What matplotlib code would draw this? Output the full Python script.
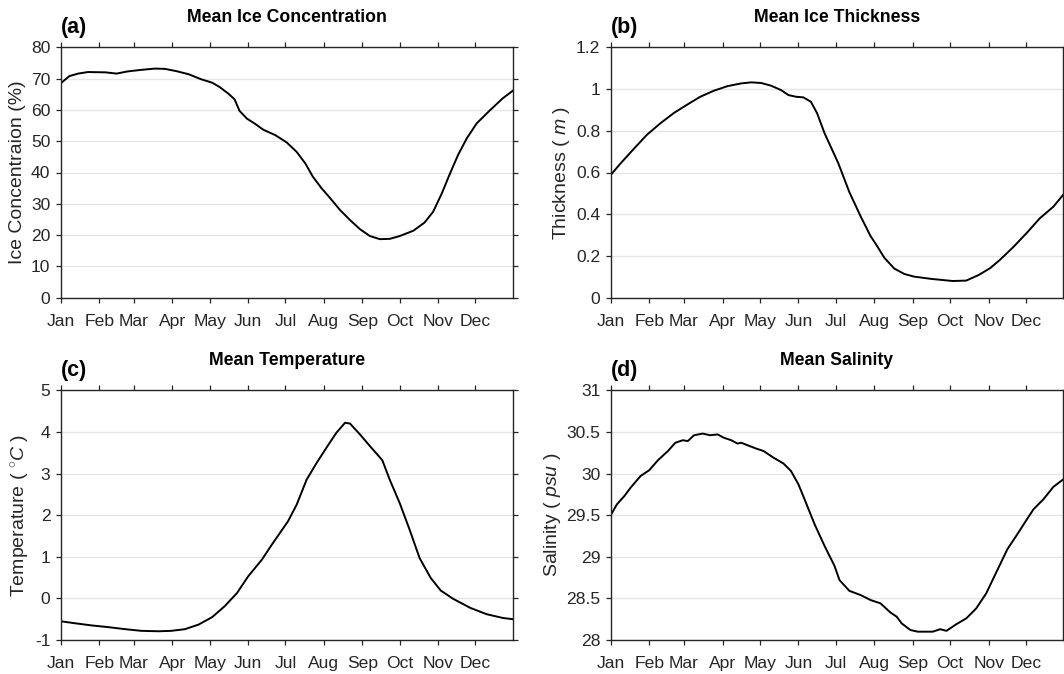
import matplotlib
matplotlib.use("Agg")
import matplotlib.pyplot as plt

# ---- data (day of year, value) ----
month_starts = [1, 32, 60, 91, 121, 152, 182, 213, 244, 274, 305, 335]
month_names = ["Jan", "Feb", "Mar", "Apr", "May", "Jun",
               "Jul", "Aug", "Sep", "Oct", "Nov", "Dec"]

ice_conc_day = [1, 8, 15, 23, 37, 46, 55, 66, 77, 85, 94, 104, 114, 123, 129,
                136, 141, 145, 151, 157, 164, 174, 183, 191, 198, 204, 211, 218,
                226, 234, 242, 250, 258, 266, 274, 285, 294, 301, 308, 314, 321,
                328, 336, 347, 357, 365]
ice_conc = [68.5, 70.8, 71.6, 72.1, 72.0, 71.6, 72.3, 72.8, 73.2, 73.1, 72.4,
            71.4, 69.8, 68.7, 67.3, 65.2, 63.4, 59.7, 57.2, 55.7, 53.7, 51.9,
            49.6, 46.6, 42.9, 38.7, 35.0, 31.8, 28.0, 24.8, 21.9, 19.7, 18.7,
            18.8, 19.7, 21.4, 24.0, 27.5, 33.4, 39.2, 45.6, 50.9, 55.7, 60.0,
            63.7, 66.1]

thick_day = [1, 9, 20, 30, 41, 52, 63, 73, 84, 95, 106, 114, 122, 130, 138,
             144, 150, 156, 162, 167, 173, 184, 193, 202, 210, 215, 221, 229,
             237, 245, 259, 276, 287, 297, 306, 314, 325, 336, 346, 357, 365]
thickness = [0.588, 0.644, 0.716, 0.780, 0.836, 0.886, 0.927, 0.963, 0.992,
             1.014, 1.027, 1.032, 1.029, 1.016, 0.995, 0.971, 0.963, 0.960,
             0.939, 0.884, 0.788, 0.645, 0.505, 0.390, 0.295, 0.250, 0.192,
             0.140, 0.114, 0.101, 0.090, 0.080, 0.082, 0.109, 0.141, 0.181,
             0.244, 0.313, 0.380, 0.436, 0.494]

temp_day = [1, 13, 26, 39, 53, 66, 80, 90, 101, 112, 123, 133, 143, 152, 163,
            171, 184, 191, 199, 207, 215, 223, 230, 234, 242, 250, 260, 266,
            274, 282, 290, 299, 307, 317, 331, 344, 357, 365]
temperature = [-0.55, -0.60, -0.65, -0.69, -0.74, -0.78, -0.79, -0.78, -0.74,
               -0.63, -0.45, -0.19, 0.13, 0.53, 0.93, 1.29, 1.85, 2.25, 2.85,
               3.25, 3.62, 3.98, 4.22, 4.20, 3.94, 3.66, 3.32, 2.85, 2.29, 1.65,
               0.97, 0.49, 0.19, -0.01, -0.23, -0.38, -0.47, -0.50]

sal_day = [1, 6, 12, 17, 25, 32, 39, 47, 53, 59, 63, 68, 75, 81, 87, 92, 98,
           103, 106, 111, 118, 124, 132, 140, 146, 152, 158, 165, 173, 181,
           185, 193, 202, 210, 218, 226, 231, 235, 242, 248, 254, 260, 266,
           271, 279, 287, 295, 303, 311, 320, 328, 334, 341, 349, 357, 365]
salinity = [29.50, 29.63, 29.73, 29.83, 29.97, 30.04, 30.16, 30.27, 30.37,
            30.40, 30.39, 30.46, 30.48, 30.46, 30.47, 30.43, 30.40, 30.36,
            30.37, 30.34, 30.30, 30.27, 30.19, 30.12, 30.03, 29.87, 29.65,
            29.39, 29.13, 28.89, 28.72, 28.59, 28.54, 28.48, 28.44, 28.33,
            28.28, 28.20, 28.12, 28.10, 28.10, 28.10, 28.13, 28.11, 28.19,
            28.26, 28.38, 28.56, 28.81, 29.09, 29.27, 29.41, 29.57, 29.69,
            29.84, 29.93]

conc_ticks = [0, 10, 20, 30, 40, 50, 60, 70, 80]
thick_ticks = [0, 0.2, 0.4, 0.6, 0.8, 1.0, 1.2]
temp_ticks = [-1, 0, 1, 2, 3, 4, 5]
sal_ticks = [28, 28.5, 29, 29.5, 30, 30.5, 31]

# ---- style ----
plt.rcParams.update({
    "font.family": "Liberation Sans",
    "mathtext.fontset": "custom",
    "mathtext.rm": "Liberation Sans",
    "mathtext.it": "Liberation Sans:italic",
    "mathtext.bf": "Liberation Sans:bold",
})
AX_COLOR = "#262626"

W, H = 1064, 674
fig = plt.figure(figsize=(W / 100, H / 100), dpi=100)


def make_axes(left, top, right, bottom):
    return fig.add_axes([left / W, 1 - bottom / H, (right - left) / W, (bottom - top) / H])


def fmt(v):
    return f"{v:g}"


panels = [
    dict(box=(60.7, 47.3, 512.7, 297.7), x=ice_conc_day, y=ice_conc,
         ticks=conc_ticks, tag="(a)", title="Mean Ice Concentration",
         ylabel="Ice Concentraion (%)", lab_x=-0.077),
    dict(box=(610.7, 47.3, 1063.3, 297.7), x=thick_day, y=thickness,
         ticks=thick_ticks, tag="(b)", title="Mean Ice Thickness",
         ylabel=r"Thickness ( $m$ )", lab_x=-0.086),
    dict(box=(60.7, 390.3, 512.7, 640.0), x=temp_day, y=temperature,
         ticks=temp_ticks, tag="(c)", title="Mean Temperature",
         ylabel=r"Temperature ( $^{\circ}C$ )", lab_x=-0.064),
    dict(box=(610.7, 390.3, 1063.3, 640.0), x=sal_day, y=salinity,
         ticks=sal_ticks, tag="(d)", title="Mean Salinity",
         ylabel=r"Salinity ( $psu$ )", lab_x=-0.105),
]

for p in panels:
    ax = make_axes(*p["box"])
    h_px = p["box"][3] - p["box"][1]
    ax.plot(p["x"], p["y"], color="black", lw=1.4, solid_joinstyle="round")
    ax.set_xlim(1, 365)
    ax.set_ylim(p["ticks"][0], p["ticks"][-1])
    ax.set_xticks(month_starts)
    ax.set_xticklabels(month_names)
    ax.set_yticks(p["ticks"])
    ax.set_yticklabels([fmt(v) for v in p["ticks"]])
    ax.grid(axis="y", color="#e6e6e6", lw=1.0)
    ax.set_axisbelow(True)
    for s in ax.spines.values():
        s.set_color(AX_COLOR)
        s.set_linewidth(1.0)
    ax.tick_params(direction="out", length=3.4, width=0.9, colors=AX_COLOR,
                   top=True, right=True, labelsize=12.6)
    ax.tick_params(axis="x", pad=8.0)
    ax.tick_params(axis="y", pad=4.0)
    ax.set_ylabel(p["ylabel"], fontsize=14, color=AX_COLOR)
    ax.yaxis.set_label_coords(p["lab_x"], 0.5)
    ax.text(0.5, 1 + 25.5 / h_px, p["title"], transform=ax.transAxes,
            ha="center", va="baseline", fontsize=12.7, fontweight="bold")
    ax.text(0.0, 1 + 14.5 / h_px, p["tag"], transform=ax.transAxes,
            ha="left", va="baseline", fontsize=15.5, fontweight="bold")

fig.savefig("out.png", dpi=100)
